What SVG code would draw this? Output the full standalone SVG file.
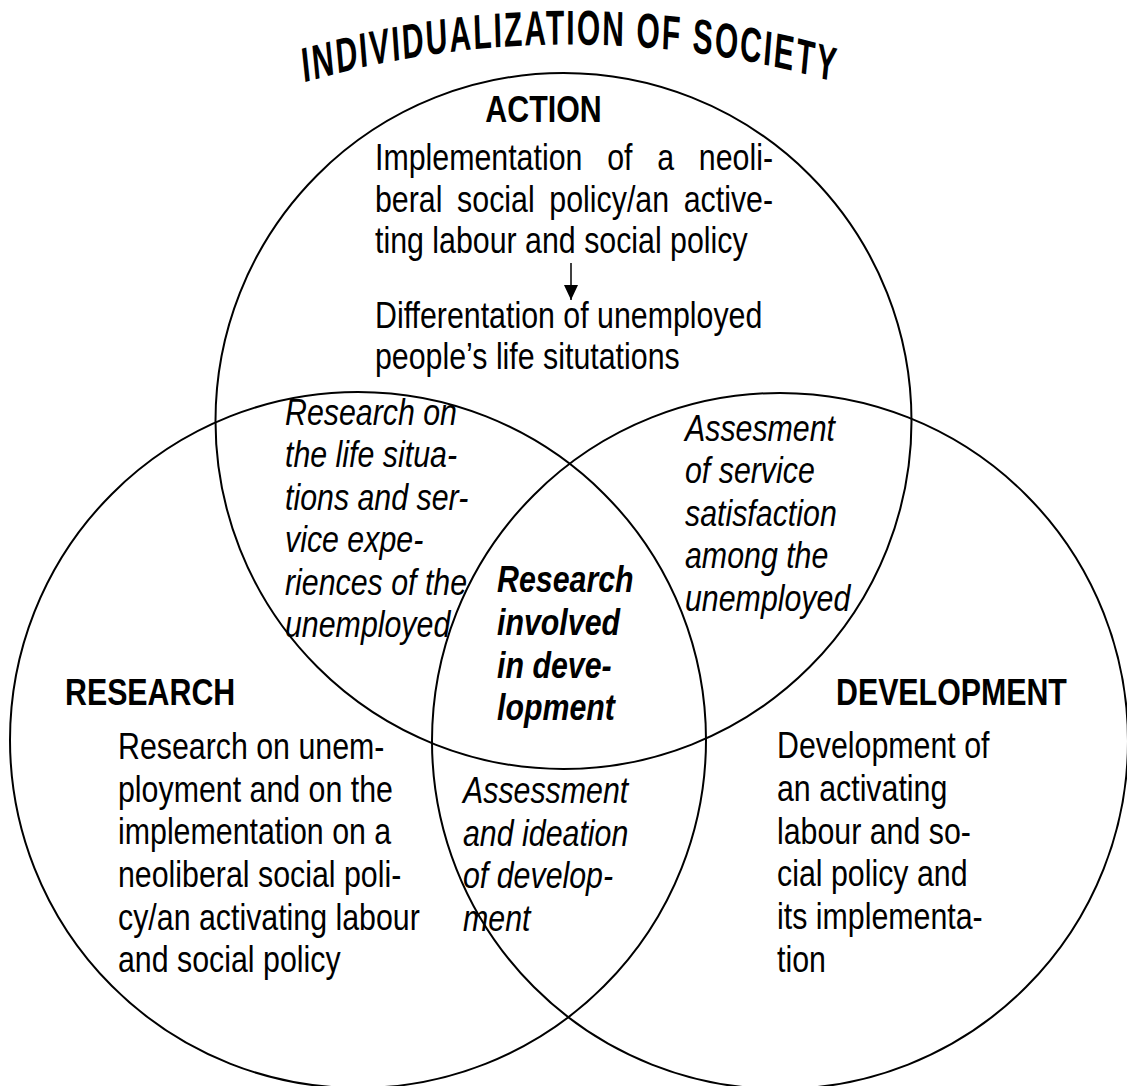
<svg xmlns="http://www.w3.org/2000/svg" width="1127" height="1086" viewBox="0 0 1127 1086">
<defs>
<style>
.circ{fill:none;stroke:#000;stroke-width:2}
.body{font-family:"Liberation Sans",Arial,sans-serif;font-size:37px;fill:#000}
.ital{font-family:"Liberation Sans",Arial,sans-serif;font-size:37px;font-style:italic;fill:#000}
.bital{font-family:"Liberation Sans",Arial,sans-serif;font-size:37px;font-style:italic;font-weight:bold;fill:#000}
.head{font-family:"Liberation Sans",Arial,sans-serif;font-size:37px;font-weight:bold;fill:#000}
.title{font-family:"Liberation Sans",Arial,sans-serif;font-size:30px;font-weight:bold;letter-spacing:2px;fill:#000}
.conn{stroke:#000;stroke-width:1.5;fill:none}
</style>
<path id="titleArc" d="M 220 68.3 A 950 582.8 0 0 1 920 68.3"/>
<marker id="arrowHead" viewBox="0 0 15 14" refX="15" refY="7" markerWidth="15" markerHeight="14" markerUnits="userSpaceOnUse" orient="auto">
<path d="M0 0 L15 7 L0 14 Z" fill="#000"/>
</marker>
</defs>
<rect width="1127" height="1086" fill="#fff"/>

<g id="title" transform="scale(1 1.63)">
<text class="title" text-anchor="middle"><textPath href="#titleArc" startOffset="50%">INDIVIDUALIZATION OF SOCIETY</textPath></text>
</g>

<g id="node-action">
<circle class="circ" cx="563.5" cy="421" r="348"/>
<text class="head" transform="translate(543.5 0) scale(0.82 1)" x="0" y="122" text-anchor="middle">ACTION</text>
<g transform="translate(375 0) scale(0.82 1)">
<text class="body">
<tspan x="0" y="170" word-spacing="19.9">Implementation of a neoli-</tspan>
<tspan x="0" y="211.7" word-spacing="7.6">beral social policy/an active-</tspan>
<tspan x="0" y="253.4">ting labour and social policy</tspan>
<tspan x="0" y="328.3">Differentation of unemployed</tspan>
<tspan x="0" y="369">people’s life situtations</tspan>
</text>
</g>
</g>

<g id="node-research">
<circle class="circ" cx="358" cy="740" r="348"/>
<text class="head" transform="translate(65 0) scale(0.82 1)" x="0" y="705">RESEARCH</text>
<g transform="translate(118 0) scale(0.82 1)">
<text class="body">
<tspan x="0" y="759">Research on unem-</tspan>
<tspan x="0" y="801.7">ployment and on the</tspan>
<tspan x="0" y="844.3">implementation on a</tspan>
<tspan x="0" y="887">neoliberal social poli-</tspan>
<tspan x="0" y="929.7">cy/an activating labour</tspan>
<tspan x="0" y="972.3">and social policy</tspan>
</text>
</g>
</g>

<g id="node-development">
<circle class="circ" cx="780" cy="741" r="348"/>
<text class="head" transform="translate(836 0) scale(0.82 1)" x="0" y="705">DEVELOPMENT</text>
<g transform="translate(777 0) scale(0.82 1)">
<text class="body">
<tspan x="0" y="758.3">Development of</tspan>
<tspan x="0" y="801">an activating</tspan>
<tspan x="0" y="843.6">labour and so-</tspan>
<tspan x="0" y="886.3">cial policy and</tspan>
<tspan x="0" y="929">its implementa-</tspan>
<tspan x="0" y="971.7">tion</tspan>
</text>
</g>
</g>

<g id="overlap-action-research" transform="translate(285 0) scale(0.82 1)">
<text class="ital">
<tspan x="0" y="425">Research on</tspan>
<tspan x="0" y="467.5">the life situa-</tspan>
<tspan x="0" y="510">tions and ser-</tspan>
<tspan x="0" y="552.5">vice expe-</tspan>
<tspan x="0" y="595">riences of the</tspan>
<tspan x="0" y="637.5">unemployed</tspan>
</text>
</g>

<g id="overlap-action-development" transform="translate(685 0) scale(0.82 1)">
<text class="ital">
<tspan x="0" y="441">Assesment</tspan>
<tspan x="0" y="483.5">of service</tspan>
<tspan x="0" y="526">satisfaction</tspan>
<tspan x="0" y="568.5">among the</tspan>
<tspan x="0" y="611">unemployed</tspan>
</text>
</g>

<g id="overlap-all" transform="translate(497 0) scale(0.82 1)">
<text class="bital">
<tspan x="0" y="592">Research</tspan>
<tspan x="0" y="635">involved</tspan>
<tspan x="0" y="678">in deve-</tspan>
<tspan x="0" y="720">lopment</tspan>
</text>
</g>

<g id="overlap-research-development" transform="translate(463 0) scale(0.82 1)">
<text class="ital">
<tspan x="0" y="803">Assessment</tspan>
<tspan x="0" y="846">and ideation</tspan>
<tspan x="0" y="888.5">of develop-</tspan>
<tspan x="0" y="931">ment</tspan>
</text>
</g>

<g id="connectors">
<line class="conn" x1="571" y1="263" x2="571" y2="300" marker-end="url(#arrowHead)"/>
</g>
</svg>
